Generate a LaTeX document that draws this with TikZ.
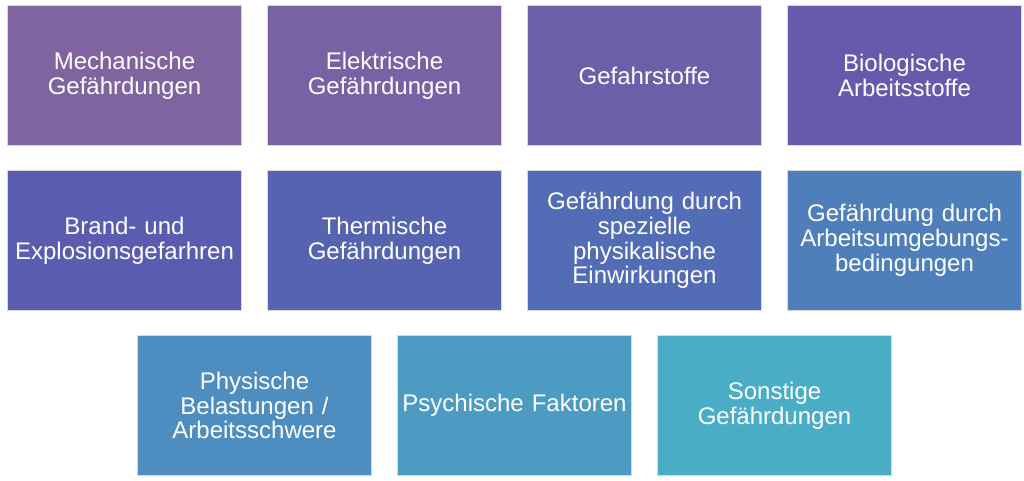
\documentclass[tikz,border=0pt]{standalone}
\usepackage{fontspec}
\setmainfont{Liberation Sans}
\begin{document}
\begin{tikzpicture}[x=1pt,y=-1pt,
  cat/.style={draw=white!85!black, line width=0.6pt, minimum width=234pt, minimum height=140pt,
    inner sep=1pt, text=white, align=center, text width=232pt,
    font=\fontsize{24}{24.8}\selectfont}]
\useasboundingbox[fill=white] (0,0) rectangle (1024,481);
\definecolor{c1}{HTML}{7F64A0}
\definecolor{c2}{HTML}{7861A4}
\definecolor{c3}{HTML}{6D5EA8}
\definecolor{c4}{HTML}{655AAB}
\definecolor{c5}{HTML}{5A5DAF}
\definecolor{c6}{HTML}{5663B1}
\definecolor{c7}{HTML}{526DB5}
\definecolor{c8}{HTML}{4F7FBA}
\definecolor{c9}{HTML}{4E8DBF}
\definecolor{c10}{HTML}{4C9BC3}
\definecolor{c11}{HTML}{4AADC6}
\node[cat, fill=c1] (n1) at (124.5,75.5) {Mechanische\\Gefährdungen};
\node[cat, fill=c2] (n2) at (384.5,75.5) {Elektrische\\Gefährdungen};
\node[cat, fill=c3] (n3) at (644.5,75.5) {Gefahrstoffe};
\node[cat, fill=c4] (n4) at (904.5,75.5) {Biologische\\Arbeitsstoffe};
\node[cat, fill=c5] (n5) at (124.5,240.5) {Brand- und\\Explosionsgefarhren};
\node[cat, fill=c6] (n6) at (384.5,240.5) {Thermische\\Gefährdungen};
\node[cat, fill=c7] (n7) at (644.5,240.5) {Gefährdung durch\\spezielle\\physikalische\\Einwirkungen};
\node[cat, fill=c8] (n8) at (904.5,240.5) {Gefährdung durch\\Arbeitsumgebungs-\\bedingungen};
\node[cat, fill=c9] (n9) at (254.5,405.5) {Physische\\Belastungen /\\Arbeitsschwere};
\node[cat, fill=c10] (n10) at (514.5,405.5) {Psychische Faktoren};
\node[cat, fill=c11] (n11) at (774.5,405.5) {Sonstige\\Gefährdungen};
\end{tikzpicture}
\end{document}
